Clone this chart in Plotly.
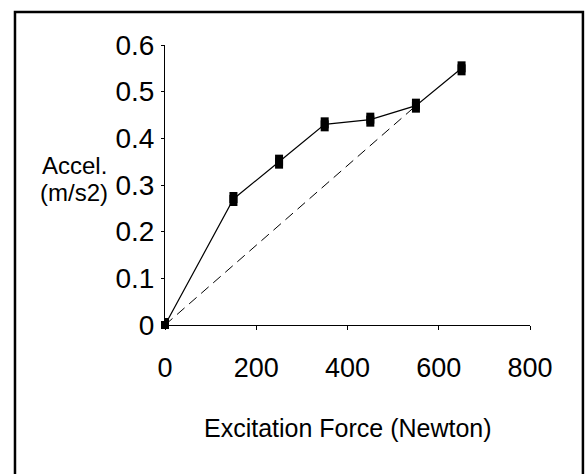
import plotly.graph_objects as go

# Data
force = [0, 150, 250, 350, 450, 550, 650]
accel = [0.0, 0.27, 0.35, 0.43, 0.44, 0.47, 0.55]
ref_x = [0, 550]
ref_y = [0.0, 0.47]
x_ticks = [0, 200, 400, 600, 800]
y_ticks = [0, 0.1, 0.2, 0.3, 0.4, 0.5, 0.6]
y_ticklabels = ["0", "0.1", "0.2", "0.3", "0.4", "0.5", "0.6"]

FONT = "Arial, Liberation Sans, sans-serif"

fig = go.Figure()
fig.add_trace(go.Scatter(
    x=ref_x, y=ref_y, mode="lines",
    line=dict(color="black", width=1, dash="10px,6px"),
    showlegend=False, cliponaxis=False,
))
fig.add_trace(go.Scatter(
    x=force, y=accel, mode="lines+markers",
    line=dict(color="black", width=1.2),
    marker=dict(symbol="square", size=8, color="black"),
    error_y=dict(type="constant", value=0.015, thickness=8, width=0, color="black"),
    showlegend=False, cliponaxis=False,
))

fig.update_layout(
    width=587, height=474,
    margin=dict(l=165, r=57, t=45, b=149),
    paper_bgcolor="white", plot_bgcolor="white",
    font=dict(family=FONT, color="black"),
    xaxis=dict(
        range=[0, 800], tickvals=x_ticks, ticktext=[str(v) for v in x_ticks],
        showline=True, linecolor="black", linewidth=1,
        ticks="outside", ticklen=4, tickcolor="black",
        showgrid=False, zeroline=False,
        tickfont=dict(size=27, family=FONT),
        ticklabelstandoff=15,
    ),
    yaxis=dict(
        range=[0, 0.6], tickvals=y_ticks, ticktext=y_ticklabels,
        showline=True, linecolor="black", linewidth=1,
        ticks="outside", ticklen=3, tickcolor="black",
        showgrid=False, zeroline=False,
        tickfont=dict(size=28, family=FONT),
        ticklabelstandoff=1,
    ),
    annotations=[
        dict(text="Excitation Force (Newton)", xref="paper", yref="paper",
             x=0.5, y=-0.368, xanchor="center", yanchor="middle",
             showarrow=False, font=dict(size=25, family=FONT)),
        dict(text="Accel.", xref="paper", yref="paper",
             x=-0.2466, y=0.57, xanchor="center", yanchor="middle",
             showarrow=False, font=dict(size=24, family=FONT)),
        dict(text="(m/s2)", xref="paper", yref="paper",
             x=-0.25, y=0.475, xanchor="center", yanchor="middle",
             showarrow=False, font=dict(size=24, family=FONT)),
    ],
    shapes=[
        dict(type="rect", xref="paper", yref="paper",
             x0=-0.411, x1=1.145, y0=-0.6, y1=1.118,
             line=dict(color="black", width=2.5), fillcolor="rgba(0,0,0,0)",
             layer="below"),
    ],
)

fig.write_html("out.html")
